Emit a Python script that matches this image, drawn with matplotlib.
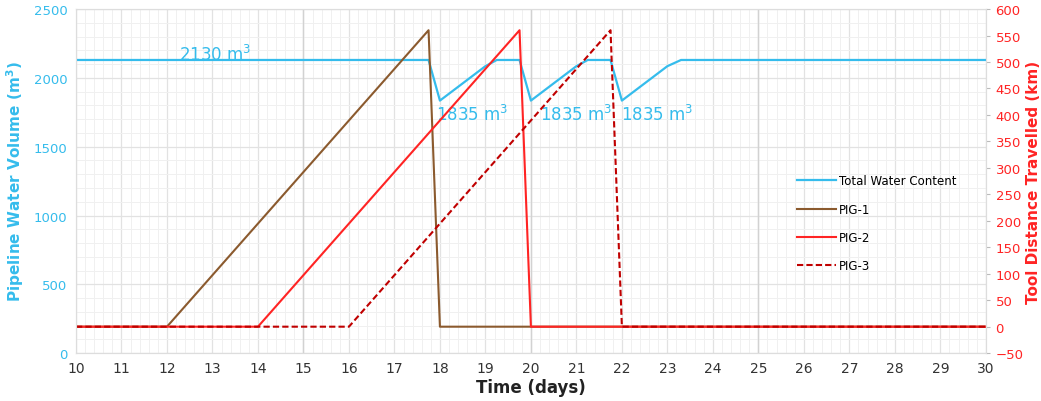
import matplotlib.pyplot as plt
from matplotlib.ticker import MultipleLocator

# Water content in the line (m3) vs time (days)
water_days = [10, 17.75, 18.0, 19.0, 19.25, 19.75, 20.0, 21.0, 21.25, 21.75, 22.0, 23.0, 23.3, 30]
water_vol = [2130, 2130, 1835, 2085, 2130, 2130, 1835, 2085, 2130, 2130, 1835, 2085, 2130, 2130]

# Distance travelled by each pig (km)
pig1_days = [10, 12, 17.75, 18, 30]
pig1_km = [0, 0, 560, 0, 0]
pig2_days = [10, 14, 19.75, 20, 30]
pig2_km = [0, 0, 560, 0, 0]
pig3_days = [10, 16, 21.75, 22, 30]
pig3_km = [0, 0, 560, 0, 0]

# label text and where it sits (day, volume)
labels = ['2130', '1835', '1835', '1835']
label_days = [13.05, 18.7, 21.0, 22.77]
label_vol = [2173, 1737, 1737, 1737]

cyan = '#35BCEC'
brown = '#8B5A2E'
red = '#FF2424'
darkred = '#C00000'

fig = plt.figure(figsize=(10.41, 4.02), dpi=100)
ax = fig.add_axes([0.073, 0.119, 0.874, 0.856])
ax2 = ax.twinx()

# water content
l0, = ax.plot(water_days, water_vol, color=cyan, lw=1.6, label='Total Water Content', zorder=3)
for t, d, v in zip(labels, label_days, label_vol):
    ax.text(d, v, t + r' m$^3$', color=cyan, fontsize=12, ha='center', va='center')

# pigs on the right axis
l1, = ax2.plot(pig1_days, pig1_km, color=brown, lw=1.5, label='PIG-1')
l2, = ax2.plot(pig2_days, pig2_km, color=red, lw=1.5, label='PIG-2')
l3, = ax2.plot(pig3_days, pig3_km, color=darkred, lw=1.5, ls=(0, (3, 1.5)), label='PIG-3')

ax.set_xlim(10, 30)
ax.set_ylim(0, 2500)
ax2.set_ylim(-50, 600)
ax.xaxis.set_major_locator(MultipleLocator(1))
ax.xaxis.set_minor_locator(MultipleLocator(0.2))
ax.yaxis.set_major_locator(MultipleLocator(500))
ax.yaxis.set_minor_locator(MultipleLocator(100))
ax2.yaxis.set_major_locator(MultipleLocator(50))

ax.grid(which='minor', color='#F0F0F0', lw=0.7)
ax.grid(which='major', color='#E2E2E2', lw=0.9)
for d in [15, 20, 25]:
    ax.axvline(d, color='#D2D2D2', lw=1.0, zorder=1)
ax.set_axisbelow(True)

for a in [ax, ax2]:
    for s in a.spines.values():
        s.set_color('#DDDDDD')

ax.tick_params(axis='y', colors=cyan, labelsize=9.5, length=0, pad=6)
ax.tick_params(axis='y', which='minor', length=0)
ax.tick_params(axis='x', which='both', length=0, labelsize=10, labelcolor='#333333', pad=6)
ax2.tick_params(axis='y', colors=red, labelsize=9.5, length=3, pad=4)
ax2.tick_params(axis='y', color='#BBBBBB')

ax.set_ylabel('Pipeline Water Volume (m$^\\mathbf{3}$)', color=cyan, fontsize=11, fontweight='bold', labelpad=6)
ax2.set_ylabel('Tool Distance Travelled (km)', color=red, fontsize=11, fontweight='bold', labelpad=2)
ax.set_xlabel('Time (days)', fontsize=12, fontweight='bold', color='#222222', labelpad=2)

ax2.legend(handles=[l0, l1, l2, l3], loc='upper left', bbox_to_anchor=(0.755, 0.59),
           bbox_transform=fig.transFigure, frameon=False, fontsize=8.5,
           labelspacing=1.3, handlelength=3.3, handletextpad=0.3)

fig.savefig('out.png', dpi=100)
